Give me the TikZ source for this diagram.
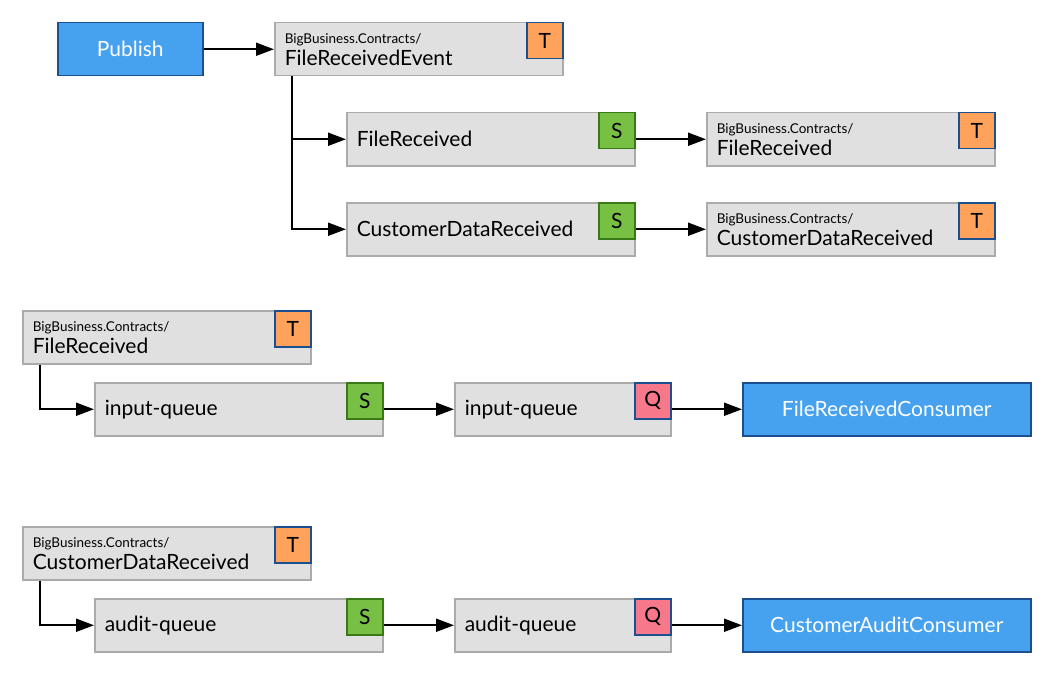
\documentclass[tikz,border=0pt]{standalone}
\usepackage{fontspec}
\setmainfont{Lato}
\definecolor{ActorFill}{RGB}{70,161,239}
\definecolor{ActorLine}{RGB}{27,79,143}
\definecolor{BoxFill}{RGB}{224,224,224}
\definecolor{BoxLine}{RGB}{171,171,171}
\definecolor{TopicFill}{RGB}{255,163,92}
\definecolor{QueueFill}{RGB}{247,120,138}
\definecolor{SubFill}{RGB}{120,192,67}
\definecolor{SubLine}{RGB}{58,122,22}
\usetikzlibrary{arrows.meta, positioning}
\newcommand{\mainsize}{\fontsize{21}{22}\selectfont}
\newcommand{\nsname}{{\fontsize{13.5}{15}\selectfont BigBusiness.Contracts/}}

\begin{document}
\begin{tikzpicture}[x=1pt, y=-1pt,
    box/.style={draw=BoxLine, fill=BoxFill, line width=1.5pt, minimum height=53pt,
                inner xsep=10pt, inner ysep=2pt, align=left, anchor=north west, font=\mainsize},
    wide/.style={box, text width=268pt},
    narrow/.style={box, text width=196pt},
    actor/.style={draw=ActorLine, fill=ActorFill, text=white, line width=1.5pt,
                  minimum height=53pt, anchor=north west, font=\mainsize},
    badge/.style={minimum size=36pt, inner sep=0pt, line width=1.5pt,
                  anchor=north east, font=\mainsize},
    topicbadge/.style={badge, fill=TopicFill, draw=ActorLine},
    subbadge/.style={badge, fill=SubFill, draw=SubLine},
    queuebadge/.style={badge, fill=QueueFill, draw=ActorLine},
    link/.style={-{Triangle[length=18pt, width=13pt]}, line width=2pt}]
      \useasboundingbox (0,0) rectangle (1052,674);

      % publishing side
      \node[actor, minimum width=145pt] (publish) at (57,22) {Publish};
      \node[wide] (fre) at (274,22) {\nsname\\FileReceivedEvent};
      \node[topicbadge] (fre-t) at (fre.north east) {T};

      \node[wide] (frs) at (346,112) {FileReceived};
      \node[subbadge] (frs-s) at (frs.north east) {S};
      \node[wide] (frt) at (706,112) {\nsname\\FileReceived};
      \node[topicbadge] (frt-t) at (frt.north east) {T};

      \node[wide] (cds) at (346,202) {CustomerDataReceived};
      \node[subbadge] (cds-s) at (cds.north east) {S};
      \node[wide] (cdt) at (706,202) {\nsname\\CustomerDataReceived};
      \node[topicbadge] (cdt-t) at (cdt.north east) {T};

      \draw[link] (publish) -- (fre);
      \draw[link] (fre.south west) ++(18,0) |- (frs.west);
      \draw[link] (fre.south west) ++(18,0) |- (cds.west);
      \draw[link] (frs) -- (frt);
      \draw[link] (cds) -- (cdt);

      % input-queue
      \node[wide] (frt2) at (22,310) {\nsname\\FileReceived};
      \node[topicbadge] (frt2-t) at (frt2.north east) {T};
      \node[wide] (inputs) at (94,382) {input-queue};
      \node[subbadge] (inputs-s) at (inputs.north east) {S};
      \node[narrow] (inputq) at (454,382) {input-queue};
      \node[queuebadge] (inputq-q) at (inputq.north east) {Q};
      \node[actor, minimum width=288pt] (frconsumer) at (742,382) {FileReceivedConsumer};

      \draw[link] (frt2.south west) ++(18,0) |- (inputs.west);
      \draw[link] (inputs) -- (inputq);
      \draw[link] (inputq) -- (frconsumer);

      % audit-queue
      \node[wide] (cdt2) at (22,526) {\nsname\\CustomerDataReceived};
      \node[topicbadge] (cdt2-t) at (cdt2.north east) {T};
      \node[wide] (audits) at (94,598) {audit-queue};
      \node[subbadge] (audits-s) at (audits.north east) {S};
      \node[narrow] (auditq) at (454,598) {audit-queue};
      \node[queuebadge] (auditq-q) at (auditq.north east) {Q};
      \node[actor, minimum width=288pt] (caconsumer) at (742,598) {CustomerAuditConsumer};

      \draw[link] (cdt2.south west) ++(18,0) |- (audits.west);
      \draw[link] (audits) -- (auditq);
      \draw[link] (auditq) -- (caconsumer);
\end{tikzpicture}
\end{document}
